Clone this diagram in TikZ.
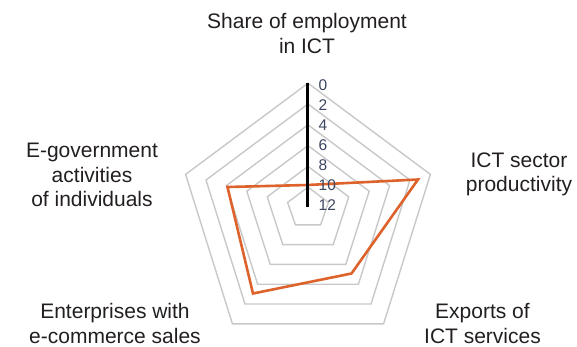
\documentclass[tikz,border=0pt]{standalone}
\usepackage{fontspec}
\setmainfont{Liberation Sans}
\definecolor{ringgray}{RGB}{200,200,200}
\definecolor{dataorange}{RGB}{222,98,44}
\definecolor{ticklabel}{RGB}{60,70,95}
\definecolor{labeltext}{RGB}{35,31,32}
\begin{document}
\begin{tikzpicture}[x=1pt,y=-1pt,
  ring/.style={draw=ringgray,line width=1.4pt,line join=miter},
  series/.style={draw=dataorange,line width=2.6pt,line join=miter},
  axisline/.style={draw=black,line width=2.8pt},
  ticklbl/.style={anchor=west,inner sep=0pt,text=ticklabel,font=\fontsize{15.5}{15.5}\selectfont},
  catlbl/.style={align=center,inner sep=0pt,text=labeltext,font=\fontsize{21}{24.5}\selectfont,anchor=base}]
\useasboundingbox (0,0) rectangle (577,347);
\foreach \k in {1,...,6}{
  \draw[ring] (308,208-20.8*\k) -- (308+20.4*\k,208-5.6*\k) -- (308+12.6*\k,205+19.8*\k) -- (308-12.6*\k,205+19.8*\k) -- (308-20.4*\k,208-5.6*\k) -- cycle;
}
\coordinate (d1) at (307.5,185);
\coordinate (d2) at (418,179.5);
\coordinate (d3) at (351.5,273.5);
\coordinate (d4) at (253,293.5);
\coordinate (d5) at (227.5,187);
\draw[series] (d1) -- (d2) -- (d3) -- (d4) -- (d5) -- cycle;
\coordinate (ax0) at (307.5,83);
\coordinate (ax12) at (307.5,207);
\draw[axisline] (ax0) -- (ax12);
\foreach \v [count=\i from 0] in {0,2,...,12}
  \node[ticklbl] (t\v) at (318.5,85+20*\i) {\v};
\node[catlbl] (share) at (307,53.3) {Share of employment\\in ICT};
\node[catlbl] (prod) at (519,192) {ICT sector\\productivity};
\node[catlbl] (exp) at (482.5,343) {Exports of\\ICT services};
\node[catlbl] (ecom) at (115,343) {Enterprises with\\e-commerce sales};
\node[catlbl] (egov) at (92,207) {E-government\\activities\\of individuals};
\end{tikzpicture}
\end{document}
